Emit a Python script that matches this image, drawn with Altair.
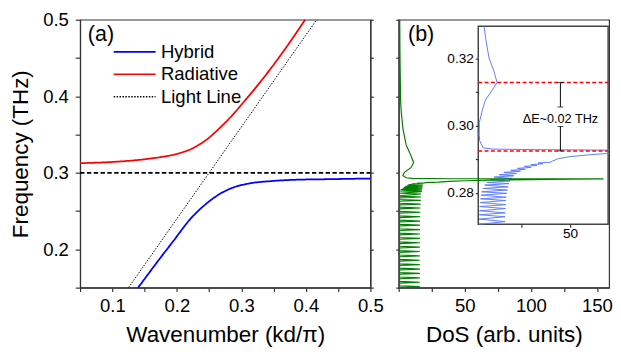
import altair as alt
import pandas as pd

FONT = "Liberation Sans"

# ---------------- Panel (a): dispersion ----------------
series_order = ["Hybrid", "Radiative", "Light Line"]
hybrid_k = [0.14, 0.17, 0.1952, 0.2204, 0.2455, 0.2656, 0.2857, 0.3108, 0.346, 0.3862, 0.4364, 0.5]
hybrid_f = [0.15, 0.184, 0.2116, 0.2392, 0.2596, 0.2719, 0.2803, 0.2859, 0.2892, 0.291, 0.2917, 0.2926]
radiative_k = [0.05, 0.0997, 0.15, 0.175, 0.2003, 0.2253, 0.2455, 0.2656, 0.2857, 0.3008, 0.336, 0.366, 0.3988]
radiative_f = [0.3126, 0.3142, 0.3177, 0.3206, 0.3248, 0.3324, 0.343, 0.3579, 0.375, 0.3897, 0.4258, 0.4597, 0.5]
light_k = [0.125, 0.4167]
light_f = [0.15, 0.5]
resonance_f = [0.3]
resonance_k = [0.05, 0.5]

# ---------------- Panel (b): DoS (main) ----------------
green_start = (0.15, 0.7)
green_peak_f = [0.1514, 0.1571, 0.1628, 0.1686, 0.1743, 0.1800, 0.1858, 0.1915, 0.1972, 0.2029, 0.2087,
                0.2144, 0.2201, 0.2258, 0.2316, 0.2370, 0.2426, 0.2485, 0.2541, 0.2592, 0.2640, 0.2684]
green_peak_x = [16, 16, 16, 16, 16, 16, 16, 16, 16, 16, 16, 16, 16, 16.1, 16.1, 16.2, 16.3, 16.4, 16.5, 16.6, 16.7, 16.8]
green_base_x = 0.7
green_peak_halfwidth = 0.0011
green_tail_f = [0.2700, 0.2723, 0.2733, 0.2754, 0.2763, 0.2775, 0.2782, 0.2792, 0.2797, 0.2806, 0.2811, 0.2819,
                0.2824, 0.2832, 0.2836, 0.2843, 0.2847, 0.2853, 0.2857, 0.2862, 0.2865, 0.2869, 0.2872, 0.2879,
                0.2888, 0.2897, 0.2905, 0.2912, 0.2917, 0.2921, 0.2923, 0.2927, 0.2935, 0.2964, 0.3006, 0.3070,
                0.3134, 0.3219, 0.3368, 0.358, 0.379, 0.392, 0.45, 0.5]
green_tail_x = [0.7, 17, 0.8, 17.5, 1.0, 17.5, 1.5, 17.8, 3, 18, 4, 18,
                5, 18.2, 6.5, 18.4, 7.5, 18.6, 10, 18.8, 14, 19.5, 20, 30,
                38, 50, 70, 100, 130, 155, 40, 10, 5.7, 3.2, 4.4, 9.4,
                11.3, 9.4, 5.6, 3.2, 2, 1.5, 1.0, 0.8]

# ---------------- Panel (b): inset ----------------
blue_f = [0.2706, 0.27141, 0.27215, 0.27286, 0.27345, 0.27403, 0.27465, 0.27530, 0.2759, 0.27647, 0.2771,
          0.27772, 0.2782, 0.27868, 0.2793, 0.27984, 0.2803, 0.28083, 0.2813, 0.28178, 0.2823, 0.28274,
          0.2831, 0.28353, 0.2839, 0.28431, 0.2847, 0.28507, 0.2854, 0.28576, 0.2861, 0.28643, 0.2867,
          0.28701, 0.2873, 0.28759, 0.2879, 0.28817, 0.2884, 0.28867, 0.2889, 0.28913,
          0.2895, 0.2902, 0.2908, 0.2913, 0.2917, 0.2920, 0.2923, 0.2925, 0.2927, 0.2929, 0.29305, 0.2934,
          0.2942, 0.2955, 0.2971, 0.2990, 0.3010, 0.3048, 0.3077, 0.3106, 0.3129, 0.3164, 0.3203, 0.3261, 0.3297]
blue_u = [3.3, 16.6, 3.3, 16.6, 3.4, 16.7, 3.5, 16.8, 3.6, 16.9, 3.8,
          17.0, 4.0, 17.2, 4.2, 17.5, 4.6, 17.8, 5.2, 18.2, 6.2, 18.6,
          7.5, 19.2, 9, 20, 11, 21, 13.5, 22.5, 16, 24.5, 19.5,
          27, 23, 30, 26.5, 33, 30, 36, 33.5, 40,
          41, 44, 50, 59, 68, 82, 110, 200, 80, 30, 10, 5.5,
          4.65, 3.6, 3.35, 3.35, 3.4, 5, 6.5, 10, 12.5, 10.85, 8.35, 6.65, 5.85]
inset_u = [2.85, 69.5]
inset_f = [0.2706, 0.3297]
split_f = [0.3129, 0.2925]
err_u = 45
err_lo = [0.3056, 0.2925]
err_hi = [0.3129, 0.2998]
err_caps = [0.3129, 0.3056, 0.2998, 0.2925]
gap_label = "ΔE~0.02 THz"
gap_label_f = 0.3019

# ---------------- tables ----------------
curves = pd.DataFrame(
    {"series": ["Hybrid"] * len(hybrid_k) + ["Radiative"] * len(radiative_k),
     "k": hybrid_k + radiative_k, "f": hybrid_f + radiative_f})
light = pd.DataFrame({"series": ["Light Line"] * 2, "k": light_k, "f": light_f})
reso = pd.DataFrame({"k": [resonance_k[0]], "k2": [resonance_k[1]], "f": resonance_f})

gf, gx = [green_start[0]], [green_start[1]]
for p, h in zip(green_peak_f, green_peak_x):
    gf += [p - green_peak_halfwidth, p, p + green_peak_halfwidth]
    gx += [green_base_x, h, green_base_x]
gf += green_tail_f
gx += green_tail_x
green = pd.DataFrame({"f": gf, "x": gx, "i": range(len(gf))})
blue = pd.DataFrame({"f": blue_f, "x": blue_u, "i": range(len(blue_f))})
box = pd.DataFrame({"x": [inset_u[0]], "x2": [inset_u[1]], "f": [inset_f[0]], "f2": [inset_f[1]]})
reds = pd.DataFrame({"x": [inset_u[0]] * 2, "x2": [inset_u[1]] * 2, "f": split_f})
errs = pd.DataFrame({"x": [err_u] * 2, "f": err_lo, "f2": err_hi})
caps = pd.DataFrame({"x": [err_u] * 4, "f": err_caps})
gtxt = pd.DataFrame({"x": [err_u], "f": [gap_label_f], "t": [gap_label]})

# ---------------- scales / axes ----------------
H = 275
WA, WB = 298, 216
xa_scale = alt.Scale(domain=[0.05, 0.5], nice=False)
ya_scale = alt.Scale(domain=[0.15, 0.5], nice=False)
y_ticks = [0.15, 0.2, 0.25, 0.3, 0.35, 0.4, 0.45, 0.5]
xa_axis = alt.Axis(values=[0.05, 0.1, 0.15, 0.2, 0.25, 0.3, 0.35, 0.4, 0.45, 0.5],
                   labelExpr="datum.value < 0.07 ? '' : (round(datum.value*100) % 10 == 0 ? format(datum.value, '.1f') : '')",
                   title="Wavenumber (kd/π)", tickSize=4, labelPadding=6, titlePadding=8,
                   labelFontSize=19, titleFontSize=23)
ya_axis = alt.Axis(values=y_ticks,
                   labelExpr="round(datum.value*100) % 10 == 0 ? format(datum.value, '.1f') : ''",
                   title="Frequency (THz)", tickSize=5, labelPadding=7, titlePadding=11,
                   labelFontSize=19, titleFontSize=23, minExtent=0)
ya_right = alt.Axis(values=y_ticks, labels=False, title=None, orient="right", tickSize=3,
                    minExtent=0, maxExtent=3)

leg = alt.Legend(orient="none", legendX=30, legendY=23.5, title=None, symbolType="M-1,0H7.6",
                 symbolSize=100, symbolStrokeWidth=1.6, labelFontSize=19, labelFont=FONT,
                 labelOffset=34, rowPadding=3, padding=0, labelLimit=300)
color = alt.Color("series:N", scale=alt.Scale(domain=series_order, range=["#0000ff", "#ff0000", "#000000"]),
                  legend=leg)
dash = alt.StrokeDash("series:N", scale=alt.Scale(domain=series_order, range=[[1, 0], [1, 0], [1.5, 1.5]]),
                      legend=leg)

X_a = alt.X("k:Q", scale=xa_scale, axis=xa_axis)
Y_a = alt.Y("f:Q", scale=ya_scale, axis=ya_axis)

curve_layer = alt.Chart(curves).mark_line(strokeWidth=1.8, interpolate="monotone").encode(
    x=X_a, y=Y_a, color=color, strokeDash=dash)
light_layer = alt.Chart(light).mark_line(strokeWidth=1).encode(x=X_a, y=Y_a, color=color, strokeDash=dash)
label_a = alt.Chart(pd.DataFrame({"k": [0.062], "f": [0.481], "t": ["(a)"]})).mark_text(
    align="left", baseline="middle", fontSize=22, font=FONT).encode(x=X_a, y=Y_a, text="t:N")
reso_layer = alt.Chart(reso).mark_rule(strokeDash=[4.5, 2.5], strokeWidth=1.8, color="black").encode(
    x=X_a, x2="k2:Q", y=alt.Y("f:Q", scale=ya_scale, axis=ya_right))

panel_a = alt.layer(
    alt.layer(curve_layer, light_layer, label_a),
    reso_layer,
).resolve_axis(y="independent").properties(width=WA, height=H)

# panel b main
xb_scale = alt.Scale(domain=[0, 159.2], nice=False)
xb_axis = alt.Axis(values=[0, 25, 50, 75, 100, 125, 150],
                   labelExpr="(datum.value % 50 == 0 && datum.value > 0) ? datum.label : ''",
                   title="DoS (arb. units)", tickSize=4, labelPadding=6, titlePadding=8,
                   labelFontSize=19, titleFontSize=23, orient="bottom")
yb_axis = alt.Axis(values=y_ticks, labels=False, title=None, tickSize=3, orient="left",
                   minExtent=0, maxExtent=3)
X_b = alt.X("x:Q", scale=xb_scale, axis=xb_axis)
Y_b = alt.Y("f:Q", scale=ya_scale, axis=yb_axis)

green_layer = alt.Chart(green).mark_line(color="#008000", strokeWidth=1.2).encode(
    x=X_b, y=Y_b, order=alt.Order("i:Q"))
label_b = alt.Chart(pd.DataFrame({"x": [7.1], "f": [0.481], "t": ["(b)"]})).mark_text(
    align="left", baseline="middle", fontSize=22, font=FONT).encode(x=X_b, y=Y_b, text="t:N")
main_b = alt.layer(green_layer, label_b)

# inset (own scales mapped onto a sub-rectangle of panel b)
IX0, IX1 = 81.7, 215.0
IY0, IY1 = 210.0, 6.7
xi_scale = alt.Scale(domain=inset_u, range=[IX0, IX1], nice=False, zero=False)
yi_scale = alt.Scale(domain=inset_f, range=[IY0, IY1], nice=False, zero=False)
xi_axis = alt.Axis(values=[25, 50], labelExpr="datum.value == 50 ? '50' : ''", title=None,
                   orient="bottom", offset=IY0 - H, domain=False, tickSize=3, labelPadding=0,
                   labelFontSize=14, zindex=1, minExtent=0, maxExtent=0)
yi_axis = alt.Axis(values=[0.28, 0.29, 0.30, 0.31, 0.32],
                   labelExpr="round(datum.value*100) % 2 == 0 ? format(datum.value, '.2f') : ''",
                   title=None, orient="left", offset=-IX0, domain=False, tickSize=3, labelPadding=2,
                   labelFontSize=14, zindex=1, minExtent=0, maxExtent=0)
X_i = alt.X("x:Q", scale=xi_scale, axis=xi_axis)
Y_i = alt.Y("f:Q", scale=yi_scale, axis=yi_axis)

box_layer = alt.Chart(box).mark_rect(fill="white", stroke="#444", strokeWidth=1.5).encode(
    x=X_i, x2="x2:Q", y=Y_i, y2="f2:Q")
blue_layer = alt.Chart(blue).mark_line(color="#5b7bff", strokeWidth=1, clip=True).encode(
    x=X_i, y=Y_i, order=alt.Order("i:Q"))
red_layer = alt.Chart(reds).mark_rule(color="#ff0000", strokeDash=[4, 2.5], strokeWidth=1.6).encode(
    x=X_i, x2="x2:Q", y=Y_i)
err_layer = alt.Chart(errs).mark_rule(color="black", strokeWidth=1).encode(x=X_i, y=Y_i, y2="f2:Q")
cap_layer = alt.Chart(caps).mark_tick(orient="horizontal", size=6, thickness=1, color="black").encode(
    x=X_i, y=Y_i)
gtxt_layer = alt.Chart(gtxt).mark_text(fontSize=13, font=FONT, align="center", baseline="middle").encode(
    x=X_i, y=Y_i, text="t:N")
inset = alt.layer(box_layer, blue_layer, red_layer, err_layer, cap_layer, gtxt_layer)

panel_b = alt.layer(inset, main_b).resolve_scale(x="independent", y="independent").properties(
    width=WB, height=H)

chart = alt.hconcat(panel_a, panel_b, spacing=10).resolve_scale(
    color="independent", strokeDash="independent"
).properties(
    padding={"left": 0, "top": -2.5, "right": 0, "bottom": 0}
).configure_view(stroke="#333", strokeWidth=1.2).configure_axis(
    grid=False, domainColor="#333", domainWidth=1.2, tickColor="#333", tickWidth=1.2,
    labelFont=FONT, titleFont=FONT, labelColor="black", titleColor="black",
    titleFontWeight="normal", labelFlush=False
).configure_legend(labelFont=FONT)

chart.save("out.html", embed_options={"renderer": "svg", "actions": False})
